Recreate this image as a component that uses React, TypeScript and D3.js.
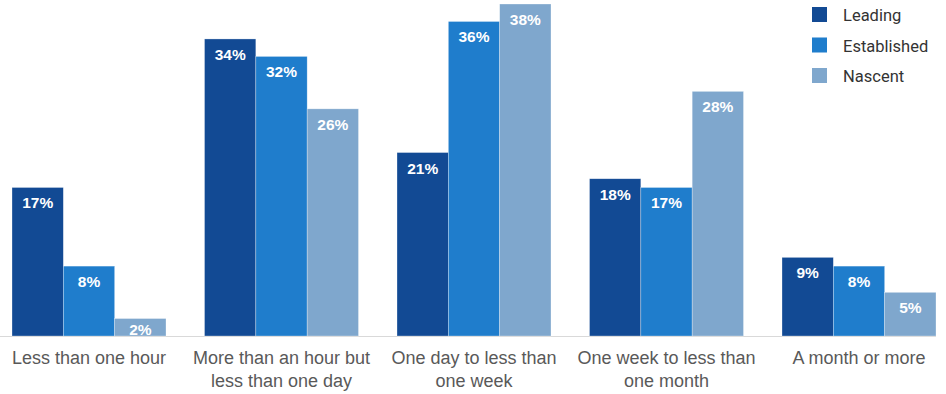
import React, { useEffect, useRef } from "react";
import * as d3 from "d3";

const categories = [
  "Less than one hour",
  "More than an hour but less than one day",
  "One day to less than one week",
  "One week to less than one month",
  "A month or more",
];
const seriesNames = ["Leading", "Established", "Nascent"];
const leading = [17, 34, 21, 18, 9];
const established = [8, 32, 36, 17, 8];
const nascent = [2, 26, 38, 28, 5];
const colors = ["#124a94", "#1f7dcc", "#7fa7cd"];

const W = 946;
const H = 394;

function App() {
  const svgRef = useRef<SVGSVGElement>(null);

  useEffect(() => {
    const svg = d3.select(svgRef.current);
    svg.selectAll("*").remove();

    const values = [leading, established, nascent];
    const baseline = 336;

    const x0 = d3.scaleBand().domain(categories).range([12, 936]).paddingInner(0.2).paddingOuter(0);
    const x1 = d3.scaleBand().domain(seriesNames).range([0, x0.bandwidth()]).padding(0);
    const y = d3.scaleLinear().domain([0, 38]).range([baseline, 4]);

    // baseline
    svg.append("line")
      .attr("x1", 0).attr("x2", 936)
      .attr("y1", baseline + 0.5).attr("y2", baseline + 0.5)
      .attr("stroke", "#d9d9d9");

    const rows = categories.map((c, i) => ({
      cat: c,
      vals: seriesNames.map((s, j) => ({ s, v: values[j][i], color: colors[j] })),
    }));

    const g = svg.selectAll("g.grp")
      .data(rows)
      .join("g")
      .attr("class", "grp")
      .attr("transform", d => `translate(${x0(d.cat)},0)`);

    g.selectAll("rect")
      .data(d => d.vals)
      .join("rect")
      .attr("x", d => x1(d.s)!)
      .attr("width", x1.bandwidth())
      .attr("y", d => y(d.v))
      .attr("height", d => baseline - y(d.v))
      .attr("fill", d => d.color)
      .attr("stroke", "rgba(255,255,255,0.5)")
      .attr("stroke-width", 0.6);

    g.selectAll("text.val")
      .data(d => d.vals)
      .join("text")
      .attr("class", "val")
      .attr("x", d => x1(d.s)! + x1.bandwidth() / 2)
      .attr("y", d => Math.min(y(d.v) + 21, baseline - 1.5))
      .attr("text-anchor", "middle")
      .attr("fill", "#fff")
      .attr("font-family", "Liberation Sans, Arial, sans-serif")
      .attr("font-weight", "bold")
      .attr("font-size", 15.5)
      .text(d => `${d.v}%`);

    // category labels with wrapping
    const labels = svg.selectAll("text.cat")
      .data(categories)
      .join("text")
      .attr("class", "cat")
      .attr("x", d => x0(d)! + x0.bandwidth() / 2)
      .attr("y", 364)
      .attr("text-anchor", "middle")
      .attr("fill", "#595959")
      .attr("font-family", "Liberation Sans, Arial, sans-serif")
      .attr("font-size", 18);

    labels.each(function (d) {
      const text = d3.select(this);
      const words = d.split(" ");
      let line: string[] = [];
      const xPos = text.attr("x");
      let tspan = text.append("tspan").attr("x", xPos).attr("dy", 0);
      for (const w of words) {
        line.push(w);
        tspan.text(line.join(" "));
        if ((tspan.node() as SVGTSpanElement).getComputedTextLength() > 188 && line.length > 1) {
          line.pop();
          tspan.text(line.join(" "));
          line = [w];
          tspan = text.append("tspan").attr("x", xPos).attr("dy", 23).text(w);
        }
      }
    });

    // legend
    const legend = svg.selectAll("g.leg")
      .data(seriesNames)
      .join("g")
      .attr("class", "leg")
      .attr("transform", (d, i) => `translate(812,${7 + i * 30.5})`);
    legend.append("rect")
      .attr("width", 15).attr("height", 15)
      .attr("fill", (d, i) => colors[i]);
    legend.append("text")
      .attr("x", 31).attr("y", 14)
      .attr("fill", "#333")
      .attr("font-family", "Roboto, sans-serif")
      .attr("font-size", 16.5)
      .text(d => d);
  }, []);

  return (
    <div style={{ position: "absolute", left: 0, top: 0 }}>
      <svg ref={svgRef} width={W} height={H} style={{ display: "block", background: "#fff" }} />
    </div>
  );
}

export default App;
